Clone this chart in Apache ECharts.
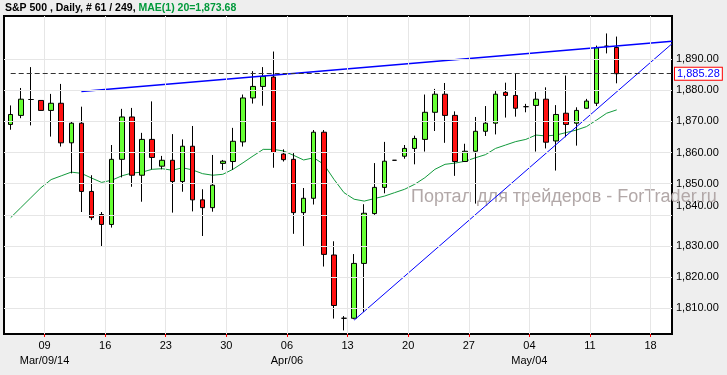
<!DOCTYPE html>
<html><head><meta charset="utf-8">
<script src="https://cdn.jsdelivr.net/npm/echarts@6/dist/echarts.min.js"></script>
<style>html,body{margin:0;padding:0;background:#eeeeee;}#c{width:727px;height:375px;}</style>
</head><body><div id="c"></div>
<script>
// ---- data ----
const opens  = [1869.0,1871.9,1877.0,1876.7,1873.5,1875.8,1863.1,1869.4,1847.5,1840.1,
                1836.9,1857.8,1871.4,1852.7,1864.2,1855.6,1857.5,1850.7,1862.0,1844.8,
                1842.3,1856.5,1857.1,1863.4,1877.5,1881.2,1884.2,1859.5,1857.8,1840.7,
                1845.3,1866.5,1827.1,1806.8,1806.8,1824.4,1840.4,1848.8,1857.5,1858.8,
                1861.3,1864.2,1872.9,1878.7,1871.9,1857.1,1860.4,1866.8,1869.4,1879.3,
                1878.3,1874.7,1875.1,1877.1,1863.7,1872.6,1869.4,1874.2,1875.8,1894.1,1893.7];
const closes = [1872.2,1877.1,1877.0,1873.5,1875.8,1863.1,1869.4,1847.5,1839.1,1836.9,
                1857.8,1871.4,1852.7,1864.2,1858.4,1857.5,1850.7,1862.0,1844.8,1842.3,
                1849.5,1857.2,1863.6,1877.5,1881.2,1884.4,1860.0,1857.7,1840.7,1845.3,
                1866.5,1827.3,1810.9,1806.8,1824.4,1840.5,1848.8,1857.2,1857.5,1861.3,
                1864.5,1872.9,1878.7,1871.9,1857.1,1860.4,1866.8,1869.4,1878.7,1878.3,
                1874.2,1874.7,1877.1,1863.3,1872.2,1869.0,1873.5,1876.5,1893.6,1894.1,1885.28];
const lows   = [1867.3,1871.0,1868.7,1873.4,1865.1,1861.9,1853.3,1840.9,1838.3,1829.8,
                1835.9,1852.0,1849.0,1844.2,1854.6,1854.6,1840.7,1847.4,1841.1,1833.2,
                1841.0,1854.4,1854.4,1861.9,1875.7,1875.0,1855.1,1857.1,1833.9,1830.0,
                1843.3,1823.4,1806.7,1802.9,1806.5,1808.8,1840.0,1846.9,1857.5,1858.0,
                1856.2,1860.3,1866.9,1863.1,1852.5,1857.1,1843.6,1865.3,1865.8,1871.2,
                1871.5,1872.9,1860.3,1861.3,1854.2,1864.9,1862.2,1874.0,1874.9,1891.8,1882.2];
const highs  = [1875.1,1880.7,1887.4,1876.8,1878.8,1882.0,1869.8,1874.7,1852.7,1840.9,
                1862.4,1874.0,1874.3,1866.3,1876.4,1858.9,1865.9,1864.2,1868.5,1848.2,
                1859.2,1857.6,1867.9,1878.6,1886.1,1887.4,1892.4,1861.0,1859.8,1848.6,
                1867.2,1867.2,1831.5,1807.5,1827.4,1843.4,1856.6,1863.4,1857.5,1862.4,
                1865.4,1878.6,1880.4,1882.3,1873.2,1862.8,1871.4,1874.9,1879.7,1882.4,
                1885.4,1875.6,1879.4,1880.9,1875.2,1884.7,1874.5,1877.2,1894.3,1898.2,1897.2];
const ma20   = [1839.1,1842.3,1845.5,1848.7,1851.3,1852.5,1853.7,1853.3,1851.8,1850.4,
                1851.1,1852.5,1853.4,1853.7,1854.6,1854.8,1854.3,1855.1,1854.4,1853.2,
                1852.7,1853.0,1854.6,1856.7,1858.9,1861.0,1861.0,1860.5,1859.1,1857.6,
                1858.3,1856.2,1851.4,1847.1,1845.0,1844.4,1845.2,1846.0,1847.1,1848.2,
                1849.8,1851.9,1854.6,1856.2,1856.6,1857.2,1858.3,1859.3,1861.3,1862.4,
                1863.5,1864.2,1865.6,1865.3,1865.6,1866.4,1867.2,1868.3,1870.4,1872.6,1873.68];
const sundayBars  = [3,9,15,21,27,33,39,45,51,57,63];
const dayLabels   = ['09','16','23','30','06','13','20','27','04','11','18'];
const monthLabels = ['Mar/09/14','','','','Apr/06','','','','May/04','',''];
const priceTicks  = [1810,1820,1830,1840,1850,1860,1870,1880,1890];
const lastClose   = 1885.28;
const totalBars   = 249;
const X_MIN = -0.663, X_MAX = 65.47;
const Y_MIN = 1801.75, Y_MAX = 1903.8;
const upperTrend = [[7, 1879.6], [X_MAX, 1895.7]];
const lowerTrend = [[34, 1806.2], [X_MAX, 1894.9]];
const TICK_OFFSET = 0.35;

// ---- build ----
const FONT = '"Liberation Sans", Arial, sans-serif';
function fmt(v){const s=v.toFixed(2).split('.');return s[0].replace(/\B(?=(\d{3})+(?!\d))/g,',')+'.'+s[1];}
const tickXs = sundayBars.map(i => i + TICK_OFFSET);
const candles = opens.map((o,i)=>[i,o,closes[i],lows[i],highs[i]]);
const maData = ma20.map((v,i)=>[i,v]);

const chart = echarts.init(document.getElementById('c'), null, {renderer:'canvas'});
chart.setOption({
  animation:false,
  backgroundColor:'#eeeeee',
  textStyle:{fontFamily:FONT},
  title:{
    left:5, top:2, padding:0,
    text:'{a|S&P 500 , Daily, # '+opens.length+' / '+totalBars+', }{b|MAE(1) 20='+fmt(ma20[ma20.length-1])+'}',
    textStyle:{rich:{
      a:{color:'#000',fontSize:10.5,fontFamily:FONT,lineHeight:13},
      b:{color:'#00993a',fontSize:10.5,fontFamily:FONT,lineHeight:13}
    }}
  },
  graphic:[{
    type:'text', left:411, top:188, z:1, silent:true,
    style:{text:'Портал для трейдеров - ForTrader.ru', fill:'#b2a8a8', font:'18px '+FONT}
  }],
  grid:{left:4, right:55, top:16, bottom:41, show:true, backgroundColor:'#ffffff', borderColor:'#000', borderWidth:2},
  xAxis:{
    type:'value', min:X_MIN, max:X_MAX,
    axisLine:{show:false}, splitLine:{show:false},
    axisTick:{show:true, length:3, lineStyle:{color:'#ff0000'}, customValues:tickXs},
    axisLabel:{customValues:tickXs, margin:4, color:'#000', fontSize:11, lineHeight:15, fontFamily:FONT,
      formatter:function(v){
        let k=-1; tickXs.forEach((t,j)=>{ if(Math.abs(t-v)<1e-6) k=j; });
        if(k<0) return '';
        return dayLabels[k] + (monthLabels[k] ? '\n'+monthLabels[k] : '');
      }}
  },
  yAxis:{
    type:'value', position:'right', min:Y_MIN, max:Y_MAX,
    axisLine:{show:false}, splitLine:{show:false},
    axisTick:{show:true, length:4, lineStyle:{color:'#ff0000'}, customValues:priceTicks},
    axisLabel:{customValues:priceTicks, margin:4, color:'#000', fontSize:11, fontFamily:FONT,
      formatter:function(v){ return v===1840 ? '{up|'+fmt(v)+'}' : fmt(v); },
      rich:{up:{padding:[0,0,18,0], color:'#000', fontSize:11, fontFamily:FONT}}}
  },
  series:[
    { // grid lines
      type:'line', data:[], z:1, silent:true,
      markLine:{silent:true, symbol:['none','none'], label:{show:false},
        lineStyle:{color:'#e6e6e6', width:1, type:'solid'}, emphasis:{disabled:true},
        data: priceTicks.map(v=>({yAxis:v})).concat(tickXs.map(v=>({xAxis:v})))}
    },
    {
      type:'line', data:maData, z:2, symbol:'none', silent:true,
      lineStyle:{color:'#129a3c', width:1}
    },
    {
      type:'candlestick', data:candles, z:3, barWidth:5, silent:true,
      itemStyle:{color:'#66ff33', color0:'#ff1010', borderColor:'#000', borderColor0:'#000', borderColorDoji:'#000', borderWidth:1},
      markLine:{silent:true, symbol:['none','none'],
        lineStyle:{color:'#333', width:1, type:[5,3]},
        label:{show:true, position:'end', distance:3, formatter:fmt(lastClose), color:'#0000ff',
          fontSize:11, fontFamily:FONT, borderColor:'#ff0000', borderWidth:1, padding:[1,2,0,2], backgroundColor:'#fff'},
        emphasis:{disabled:true},
        data:[[{coord:[0,lastClose]},{coord:[X_MAX,lastClose]}]]}
    },
    {
      type:'line', data:upperTrend, z:4, symbol:'none', silent:true,
      lineStyle:{color:'#0000ff', width:1.5}
    },
    {
      type:'line', data:lowerTrend, z:4, symbol:'none', silent:true,
      lineStyle:{color:'#0000ff', width:1}
    }
  ]
});
</script></body></html>
